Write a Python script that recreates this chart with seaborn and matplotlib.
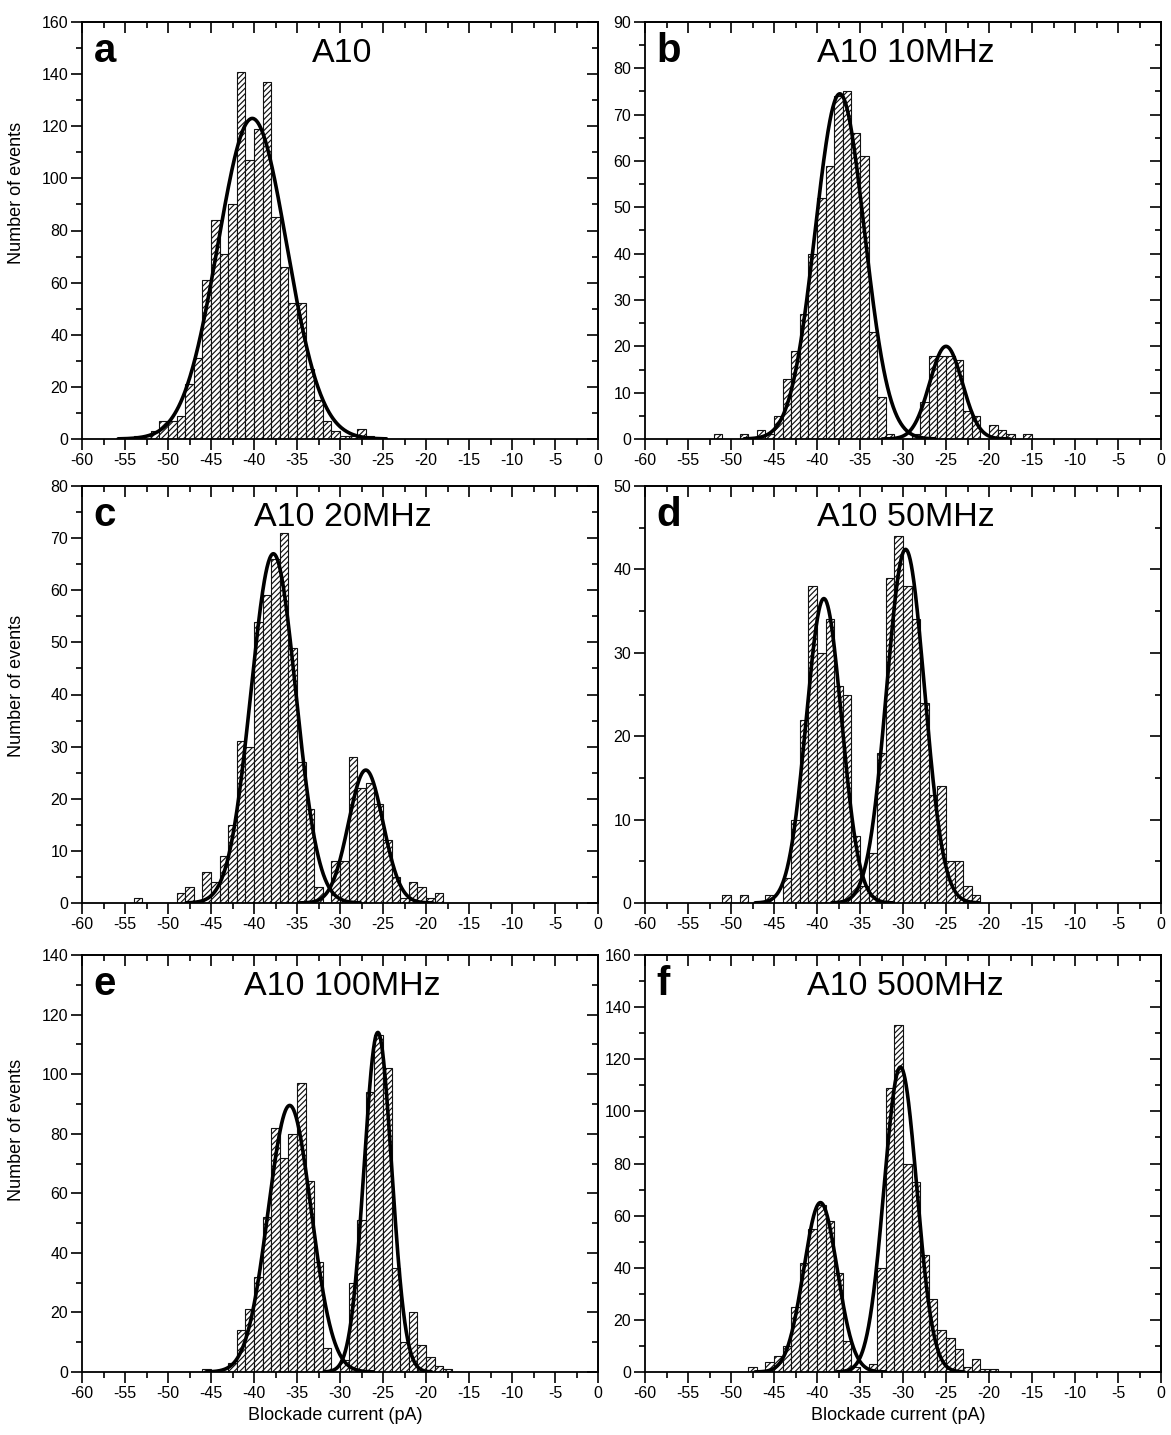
import numpy as np
import pandas as pd
import matplotlib
matplotlib.use("Agg")
import matplotlib.pyplot as plt
import seaborn as sns
from matplotlib.ticker import MultipleLocator, NullFormatter

sns.set_theme(style="ticks")
plt.rcParams["font.family"] = ["Liberation Sans", "DejaVu Sans"]
plt.rcParams["axes.unicode_minus"] = False
plt.rcParams["hatch.linewidth"] = 0.85
plt.rcParams["text.color"] = "black"
plt.rcParams["axes.labelcolor"] = "black"
plt.rcParams["xtick.color"] = "black"
plt.rcParams["ytick.color"] = "black"

# ---------------- data (1 pA bins, first bin left edge + counts) ----------------
a_start = -54
a_counts = [1, 1, 3, 7, 7, 9, 21, 31, 61, 84, 71, 90, 141, 107, 119, 137, 85, 66,
            52, 52, 27, 15, 7, 3, 1, 1, 4, 1]
a_fits = [(123, -40.2, 4.0)]

b_start = -52
b_counts = [1, 0, 0, 1, 0, 2, 1, 5, 13, 19, 27, 40, 52, 59, 74, 75, 66, 61, 23, 9,
            1, 0, 0, 1, 8, 18, 18, 18, 17, 6, 5, 0, 3, 2, 1, 0, 1]
b_fits = [(74.5, -37.35, 2.85), (20.0, -25.0, 1.9)]

c_start = -54
c_counts = [1, 0, 0, 0, 0, 2, 3, 0, 6, 4, 9, 15, 31, 30, 54, 59, 66, 71, 49, 27,
            18, 3, 0, 8, 8, 28, 22, 23, 19, 12, 5, 1, 4, 3, 1, 2]
c_fits = [(67.0, -37.75, 2.6), (25.5, -27.0, 2.0)]

d_start = -51
d_counts = [1, 0, 1, 0, 0, 1, 0, 3, 10, 22, 38, 30, 34, 26, 25, 8, 2, 6, 18, 39,
            44, 38, 34, 24, 13, 14, 5, 5, 2, 1]
d_fits = [(36.5, -39.2, 2.05), (42.4, -29.7, 2.2)]

e_start = -46
e_counts = [1, 0, 0, 3, 14, 21, 32, 52, 82, 72, 80, 97, 64, 37, 8, 0, 4, 30, 51,
            94, 113, 102, 35, 10, 20, 9, 5, 2, 1]
e_fits = [(89.5, -35.85, 2.5), (114.0, -25.6, 1.6)]

f_start = -48
f_counts = [2, 0, 4, 6, 10, 25, 42, 55, 64, 58, 38, 12, 2, 0, 3, 40, 109, 133, 80,
            73, 45, 28, 16, 13, 9, 2, 5, 1, 1]
f_fits = [(65.0, -39.6, 1.95), (117.0, -30.3, 1.9)]

letters = ["a", "b", "c", "d", "e", "f"]
titles = ["A10", "A10 10MHz", "A10 20MHz", "A10 50MHz", "A10 100MHz", "A10 500MHz"]
ymaxs = [160, 90, 80, 50, 140, 160]
ymajors = [20, 10, 10, 10, 20, 20]
ylabel_text = "Number of events"
xlabel_text = "Blockade current (pA)"

panels = [(a_start, a_counts, a_fits), (b_start, b_counts, b_fits),
          (c_start, c_counts, c_fits), (d_start, d_counts, d_fits),
          (e_start, e_counts, e_fits), (f_start, f_counts, f_fits)]

# ---------------- layout ----------------
W, H = 1171, 1435
fig = plt.figure(figsize=(W / 100, H / 100), dpi=100)
col_x = [82, 645]
row_y = [22, 486, 955]
AW, AH = 516, 417
ylabel_y = [0.59, 0.52, 0.58]

for i, (start, counts, fits) in enumerate(panels):
    r, c = divmod(i, 2)
    x0, y0 = col_x[c], row_y[r]
    ax = fig.add_axes([x0 / W, 1 - (y0 + AH) / H, AW / W, AH / H])

    centers = np.arange(start, start + len(counts)) + 0.5
    df = pd.DataFrame({"current": centers, "count": np.asarray(counts, float)})
    sns.histplot(data=df, x="current", weights="count", binwidth=1,
                 binrange=(start, start + len(counts)), ax=ax,
                 color="white", edgecolor="#111111", linewidth=0.8, alpha=1.0)
    for p in ax.patches:
        p.set_hatch("//////")
        p.set_facecolor("white")

    for amp, mu, sig in fits:
        xs = np.linspace(mu - 3.9 * sig, mu + 3.9 * sig, 400)
        ys = amp * np.exp(-0.5 * ((xs - mu) / sig) ** 2)
        sns.lineplot(x=xs, y=ys, ax=ax, color="black", linewidth=2.6)

    ax.set_xlim(-60, 0)
    ax.set_ylim(0, ymaxs[i])
    ax.xaxis.set_major_locator(MultipleLocator(5))
    ax.xaxis.set_minor_locator(MultipleLocator(2.5))
    ax.yaxis.set_major_locator(MultipleLocator(ymajors[i]))
    ax.yaxis.set_minor_locator(MultipleLocator(ymajors[i] / 2))
    ax.tick_params(which="major", direction="out", length=8, width=1.2,
                   labelsize=11.5, pad=2, colors="black")
    ax.tick_params(which="minor", direction="out", length=4.5, width=1.2)
    for s in ax.spines.values():
        s.set_visible(True)
        s.set_linewidth(1.3)
        s.set_color("black")

    top = ax.secondary_xaxis("top")
    top.xaxis.set_major_locator(MultipleLocator(5))
    top.xaxis.set_minor_locator(MultipleLocator(2.5))
    top.xaxis.set_major_formatter(NullFormatter())
    top.tick_params(which="major", direction="in", length=8, width=1.2)
    top.tick_params(which="minor", direction="in", length=4.5, width=1.2)
    top.spines["top"].set_linewidth(1.3)

    right = ax.secondary_yaxis("right")
    right.yaxis.set_major_locator(MultipleLocator(ymajors[i]))
    right.yaxis.set_minor_locator(MultipleLocator(ymajors[i] / 2))
    right.yaxis.set_major_formatter(NullFormatter())
    right.tick_params(which="major", direction="in", length=8, width=1.2)
    right.tick_params(which="minor", direction="in", length=4.5, width=1.2)
    right.spines["right"].set_linewidth(1.3)

    ax.set_xlabel("")
    ax.set_ylabel("")
    if c == 0:
        ax.set_ylabel(ylabel_text, fontsize=13)
        ax.yaxis.set_label_coords(-0.11, ylabel_y[r])
    if r == 2:
        ax.set_xlabel(xlabel_text, fontsize=13)
        ax.xaxis.set_label_coords(0.49, -0.085)

    ax.text(0.023, 0.905, letters[i], transform=ax.transAxes, fontsize=29,
            fontweight="bold", ha="left", va="baseline")
    ax.text(0.505, 0.905, titles[i], transform=ax.transAxes, fontsize=24.5,
            ha="center", va="baseline")

fig.savefig("out.png", dpi=100, facecolor="white")
